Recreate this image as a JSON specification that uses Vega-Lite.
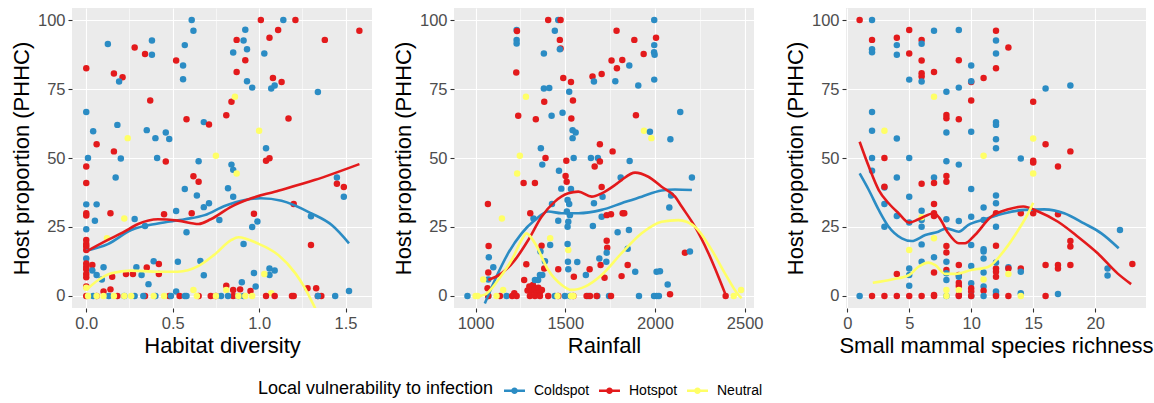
{
"$schema": "https://vega.github.io/schema/vega-lite/v6.json",
"padding": {"left": 10, "top": 8, "right": 5, "bottom": 5},
"background": "white",
"spacing": 20,
"datasets": {
"pts": [
{"p":1,"g":"Coldspot","x":0.125,"y":91.3},{"p":1,"g":"Hotspot","x":0,"y":82.5},{"p":1,"g":"Coldspot","x":0,"y":66.7},{"p":1,"g":"Coldspot","x":0.04,"y":59.7},{"p":1,"g":"Hotspot","x":0.06,"y":55},{"p":1,"g":"Coldspot","x":0.01,"y":50},{"p":1,"g":"Hotspot","x":0,"y":46.9},{"p":1,"g":"Hotspot","x":0,"y":40.9},{"p":1,"g":"Hotspot","x":0.16,"y":80.6},{"p":1,"g":"Hotspot","x":0.21,"y":79.3},{"p":1,"g":"Coldspot","x":0.19,"y":77.7},{"p":1,"g":"Coldspot","x":0.18,"y":62},{"p":1,"g":"Neutral","x":0.24,"y":57.2},{"p":1,"g":"Hotspot","x":0.16,"y":52.4},{"p":1,"g":"Coldspot","x":0.2,"y":49.8},{"p":1,"g":"Coldspot","x":0.17,"y":42.9},{"p":1,"g":"Hotspot","x":0.28,"y":90},{"p":1,"g":"Hotspot","x":0.34,"y":87.7},{"p":1,"g":"Coldspot","x":0.38,"y":92.6},{"p":1,"g":"Coldspot","x":0.38,"y":87.4},{"p":1,"g":"Hotspot","x":0.37,"y":70.8},{"p":1,"g":"Coldspot","x":0.35,"y":60.1},{"p":1,"g":"Coldspot","x":0.4,"y":57.2},{"p":1,"g":"Coldspot","x":0.41,"y":50},{"p":1,"g":"Coldspot","x":0.46,"y":59.2},{"p":1,"g":"Coldspot","x":0.48,"y":56.9},{"p":1,"g":"Hotspot","x":0.46,"y":48.7},{"p":1,"g":"Hotspot","x":0.52,"y":85.3},{"p":1,"g":"Coldspot","x":0.57,"y":90.9},{"p":1,"g":"Coldspot","x":0.56,"y":83.5},{"p":1,"g":"Coldspot","x":0.56,"y":78.5},{"p":1,"g":"Coldspot","x":0.61,"y":100},{"p":1,"g":"Coldspot","x":0.62,"y":96.1},{"p":1,"g":"Hotspot","x":0.58,"y":64},{"p":1,"g":"Coldspot","x":0.68,"y":63},{"p":1,"g":"Hotspot","x":0.71,"y":62.1},{"p":1,"g":"Coldspot","x":0.65,"y":48.8},{"p":1,"g":"Hotspot","x":0.62,"y":43.4},{"p":1,"g":"Hotspot","x":0.65,"y":41.4},{"p":1,"g":"Coldspot","x":0.57,"y":38.8},{"p":1,"g":"Coldspot","x":0.64,"y":36.4},{"p":1,"g":"Neutral","x":0.75,"y":50.8},{"p":1,"g":"Hotspot","x":0.81,"y":65.5},{"p":1,"g":"Hotspot","x":0.84,"y":70.4},{"p":1,"g":"Neutral","x":0.86,"y":72.2},{"p":1,"g":"Hotspot","x":0.87,"y":92.8},{"p":1,"g":"Coldspot","x":0.85,"y":88.2},{"p":1,"g":"Coldspot","x":0.91,"y":92.6},{"p":1,"g":"Coldspot","x":0.92,"y":96.5},{"p":1,"g":"Coldspot","x":0.93,"y":89.4},{"p":1,"g":"Hotspot","x":0.92,"y":85.4},{"p":1,"g":"Hotspot","x":0.87,"y":81.2},{"p":1,"g":"Coldspot","x":0.93,"y":77.8},{"p":1,"g":"Coldspot","x":0.96,"y":75.5},{"p":1,"g":"Coldspot","x":0.84,"y":47.6},{"p":1,"g":"Coldspot","x":0.85,"y":45.7},{"p":1,"g":"Neutral","x":0.87,"y":44.4},{"p":1,"g":"Coldspot","x":0.82,"y":39},{"p":1,"g":"Coldspot","x":0.85,"y":36},{"p":1,"g":"Neutral","x":1.0,"y":59.9},{"p":1,"g":"Hotspot","x":1.01,"y":100},{"p":1,"g":"Hotspot","x":1.06,"y":93.6},{"p":1,"g":"Hotspot","x":1.11,"y":96.4},{"p":1,"g":"Hotspot","x":1.21,"y":100},{"p":1,"g":"Coldspot","x":1.14,"y":100},{"p":1,"g":"Coldspot","x":1.03,"y":87.9},{"p":1,"g":"Hotspot","x":1.08,"y":79},{"p":1,"g":"Coldspot","x":1.07,"y":75.2},{"p":1,"g":"Coldspot","x":1.09,"y":76.3},{"p":1,"g":"Hotspot","x":1.13,"y":77.5},{"p":1,"g":"Hotspot","x":1.17,"y":64.3},{"p":1,"g":"Coldspot","x":1.04,"y":53.5},{"p":1,"g":"Hotspot","x":1.04,"y":49},{"p":1,"g":"Hotspot","x":1.06,"y":49.9},{"p":1,"g":"Hotspot","x":1.38,"y":92.8},{"p":1,"g":"Coldspot","x":1.34,"y":73.9},{"p":1,"g":"Hotspot","x":1.58,"y":96.1},{"p":1,"g":"Coldspot","x":1.45,"y":42.9},{"p":1,"g":"Hotspot","x":1.45,"y":40.7},{"p":1,"g":"Hotspot","x":1.49,"y":39.5},{"p":1,"g":"Coldspot","x":1.49,"y":36},
{"p":1,"g":"Coldspot","x":0,"y":33.2},{"p":1,"g":"Coldspot","x":0.06,"y":33.2},{"p":1,"g":"Hotspot","x":0,"y":30},{"p":1,"g":"Hotspot","x":0,"y":29.2},{"p":1,"g":"Coldspot","x":0.05,"y":27.3},{"p":1,"g":"Hotspot","x":0.14,"y":30},{"p":1,"g":"Neutral","x":0.22,"y":28.1},{"p":1,"g":"Coldspot","x":0.28,"y":27.9},{"p":1,"g":"Coldspot","x":0.34,"y":25.4},{"p":1,"g":"Hotspot","x":0.45,"y":29.6},{"p":1,"g":"Coldspot","x":0.52,"y":30.8},{"p":1,"g":"Hotspot","x":0.61,"y":30},{"p":1,"g":"Coldspot","x":0.68,"y":32.2},{"p":1,"g":"Coldspot","x":0.71,"y":33.6},{"p":1,"g":"Coldspot","x":0.58,"y":23.1},{"p":1,"g":"Coldspot","x":0.77,"y":27.5},{"p":1,"g":"Coldspot","x":0.96,"y":25},{"p":1,"g":"Coldspot","x":0.99,"y":27},{"p":1,"g":"Hotspot","x":0.97,"y":29.8},{"p":1,"g":"Hotspot","x":1.2,"y":33.3},{"p":1,"g":"Coldspot","x":1.3,"y":28.9},
{"p":1,"g":"Hotspot","x":0,"y":20.3},{"p":1,"g":"Hotspot","x":0,"y":18.8},{"p":1,"g":"Hotspot","x":0,"y":17.9},{"p":1,"g":"Hotspot","x":0,"y":16.7},{"p":1,"g":"Coldspot","x":0,"y":24.2},{"p":1,"g":"Coldspot","x":0,"y":13.6},{"p":1,"g":"Hotspot","x":0,"y":11.8},{"p":1,"g":"Hotspot","x":0,"y":10.6},{"p":1,"g":"Hotspot","x":0,"y":9.7},{"p":1,"g":"Hotspot","x":0,"y":8},{"p":1,"g":"Hotspot","x":0,"y":6.8},{"p":1,"g":"Hotspot","x":0,"y":3.4},{"p":1,"g":"Hotspot","x":0.035,"y":11.2},{"p":1,"g":"Coldspot","x":0.035,"y":9.2},{"p":1,"g":"Coldspot","x":0.06,"y":7.6},{"p":1,"g":"Coldspot","x":0.1,"y":10.4},{"p":1,"g":"Coldspot","x":0.09,"y":6},{"p":1,"g":"Hotspot","x":0.1,"y":1.6},{"p":1,"g":"Hotspot","x":0.14,"y":2.4},{"p":1,"g":"Hotspot","x":0.15,"y":7},{"p":1,"g":"Hotspot","x":0.23,"y":8},{"p":1,"g":"Hotspot","x":0.27,"y":8},{"p":1,"g":"Coldspot","x":0.29,"y":10.4},{"p":1,"g":"Coldspot","x":0.32,"y":7.6},{"p":1,"g":"Hotspot","x":0.35,"y":10.3},{"p":1,"g":"Coldspot","x":0.36,"y":4.3},{"p":1,"g":"Coldspot","x":0.39,"y":12.6},{"p":1,"g":"Hotspot","x":0.42,"y":11.6},{"p":1,"g":"Hotspot","x":0.42,"y":8},{"p":1,"g":"Coldspot","x":0.53,"y":12.4},{"p":1,"g":"Coldspot","x":0.52,"y":1.6},{"p":1,"g":"Coldspot","x":0.91,"y":18.8},{"p":1,"g":"Hotspot","x":0.89,"y":2.4},{"p":1,"g":"Hotspot","x":0.81,"y":3.7},{"p":1,"g":"Hotspot","x":0.85,"y":2.2},{"p":1,"g":"Coldspot","x":0.68,"y":7.5},{"p":1,"g":"Coldspot","x":0.66,"y":12.7},{"p":1,"g":"Coldspot","x":0.9,"y":5},{"p":1,"g":"Coldspot","x":0.97,"y":8.3},{"p":1,"g":"Coldspot","x":0.98,"y":3.4},{"p":1,"g":"Hotspot","x":0.95,"y":1.8},{"p":1,"g":"Coldspot","x":1.06,"y":10},{"p":1,"g":"Coldspot","x":1.09,"y":9.2},{"p":1,"g":"Coldspot","x":1.06,"y":7.6},{"p":1,"g":"Neutral","x":1.03,"y":8},{"p":1,"g":"Hotspot","x":1.3,"y":18.5},{"p":1,"g":"Hotspot","x":1.33,"y":2.8},{"p":1,"g":"Hotspot","x":1.28,"y":2.8},{"p":1,"g":"Coldspot","x":1.52,"y":1.8},{"p":1,"g":"Neutral","x":0.12,"y":20.9},{"p":1,"g":"Neutral","x":0,"y":3},{"p":1,"g":"Neutral","x":0.62,"y":2.2},{"p":1,"g":"Neutral","x":0.81,"y":2.2},{"p":1,"g":"Neutral","x":1.07,"y":1},
{"p":1,"g":"Hotspot","x":0,"y":0},{"p":1,"g":"Hotspot","x":0.06,"y":0},{"p":1,"g":"Hotspot","x":0.18,"y":0},{"p":1,"g":"Hotspot","x":0.34,"y":0},{"p":1,"g":"Hotspot","x":0.48,"y":0},{"p":1,"g":"Hotspot","x":0.54,"y":0},{"p":1,"g":"Hotspot","x":0.65,"y":0},{"p":1,"g":"Hotspot","x":0.72,"y":0},{"p":1,"g":"Hotspot","x":0.75,"y":0},{"p":1,"g":"Hotspot","x":0.85,"y":0},{"p":1,"g":"Hotspot","x":1.04,"y":0},{"p":1,"g":"Hotspot","x":1.09,"y":0},{"p":1,"g":"Hotspot","x":1.19,"y":0},{"p":1,"g":"Hotspot","x":1.2,"y":0},{"p":1,"g":"Hotspot","x":1.34,"y":0},{"p":1,"g":"Hotspot","x":1.36,"y":0},
{"p":1,"g":"Coldspot","x":0.04,"y":0},{"p":1,"g":"Coldspot","x":0.13,"y":0},{"p":1,"g":"Coldspot","x":0.22,"y":0},{"p":1,"g":"Coldspot","x":0.28,"y":0},{"p":1,"g":"Coldspot","x":0.33,"y":0},{"p":1,"g":"Coldspot","x":0.4,"y":0},{"p":1,"g":"Coldspot","x":0.49,"y":0},{"p":1,"g":"Coldspot","x":0.57,"y":0},{"p":1,"g":"Coldspot","x":0.58,"y":0},{"p":1,"g":"Coldspot","x":0.78,"y":0},{"p":1,"g":"Coldspot","x":0.82,"y":0},{"p":1,"g":"Coldspot","x":0.88,"y":0},{"p":1,"g":"Coldspot","x":0.91,"y":0},{"p":1,"g":"Coldspot","x":1.34,"y":0},{"p":1,"g":"Coldspot","x":1.44,"y":0},
{"p":1,"g":"Neutral","x":0.01,"y":0},{"p":1,"g":"Neutral","x":0.06,"y":0},{"p":1,"g":"Neutral","x":0.1,"y":0},{"p":1,"g":"Neutral","x":0.16,"y":0},{"p":1,"g":"Neutral","x":0.22,"y":0},{"p":1,"g":"Neutral","x":0.26,"y":0},{"p":1,"g":"Neutral","x":0.39,"y":0},{"p":1,"g":"Neutral","x":0.45,"y":0},{"p":1,"g":"Neutral","x":0.64,"y":0},{"p":1,"g":"Neutral","x":0.75,"y":0},{"p":1,"g":"Neutral","x":0.88,"y":0},{"p":1,"g":"Neutral","x":0.92,"y":0},{"p":1,"g":"Neutral","x":0.96,"y":0},

{"p":2,"g":"Coldspot","x":1229,"y":96.4},{"p":2,"g":"Hotspot","x":1231,"y":96},{"p":2,"g":"Coldspot","x":1229,"y":92.8},{"p":2,"g":"Coldspot","x":1229,"y":91.5},{"p":2,"g":"Hotspot","x":1227,"y":81},{"p":2,"g":"Hotspot","x":1238,"y":65.3},{"p":2,"g":"Neutral","x":1281,"y":72.2},{"p":2,"g":"Neutral","x":1247,"y":50.8},{"p":2,"g":"Neutral","x":1232,"y":44.4},{"p":2,"g":"Hotspot","x":1268,"y":40.9},{"p":2,"g":"Hotspot","x":1331,"y":40.9},{"p":2,"g":"Hotspot","x":1336,"y":64},{"p":2,"g":"Hotspot","x":1383,"y":70.4},{"p":2,"g":"Coldspot","x":1381,"y":87.9},{"p":2,"g":"Coldspot","x":1381,"y":75.2},{"p":2,"g":"Coldspot","x":1411,"y":75.4},{"p":2,"g":"Coldspot","x":1424,"y":65.3},{"p":2,"g":"Coldspot","x":1364,"y":53.5},{"p":2,"g":"Hotspot","x":1390,"y":50},{"p":2,"g":"Coldspot","x":1372,"y":47.6},{"p":2,"g":"Hotspot","x":1405,"y":100},{"p":2,"g":"Coldspot","x":1461,"y":100},{"p":2,"g":"Hotspot","x":1474,"y":100},{"p":2,"g":"Coldspot","x":1442,"y":96.1},{"p":2,"g":"Hotspot","x":1470,"y":92.8},{"p":2,"g":"Hotspot","x":1474,"y":89.7},{"p":2,"g":"Coldspot","x":1470,"y":89.4},{"p":2,"g":"Hotspot","x":1489,"y":79},{"p":2,"g":"Coldspot","x":1522,"y":74},{"p":2,"g":"Hotspot","x":1532,"y":77.5},{"p":2,"g":"Hotspot","x":1543,"y":70.8},{"p":2,"g":"Coldspot","x":1485,"y":66.4},{"p":2,"g":"Hotspot","x":1534,"y":64.3},{"p":2,"g":"Coldspot","x":1541,"y":60.1},{"p":2,"g":"Coldspot","x":1558,"y":59.2},{"p":2,"g":"Coldspot","x":1541,"y":57.2},{"p":2,"g":"Coldspot","x":1547,"y":50},{"p":2,"g":"Hotspot","x":1506,"y":49},{"p":2,"g":"Coldspot","x":1465,"y":45.4},{"p":2,"g":"Hotspot","x":1502,"y":43.5},{"p":2,"g":"Hotspot","x":1508,"y":41.4},{"p":2,"g":"Coldspot","x":1478,"y":38.9},{"p":2,"g":"Coldspot","x":1532,"y":38.8},{"p":2,"g":"Hotspot","x":1652,"y":79.5},{"p":2,"g":"Coldspot","x":1660,"y":77.7},{"p":2,"g":"Hotspot","x":1703,"y":80.4},{"p":2,"g":"Hotspot","x":1758,"y":85.3},{"p":2,"g":"Hotspot","x":1788,"y":82.5},{"p":2,"g":"Hotspot","x":1818,"y":85.5},{"p":2,"g":"Hotspot","x":1786,"y":96.1},{"p":2,"g":"Coldspot","x":1857,"y":83.5},{"p":2,"g":"Coldspot","x":1779,"y":77.8},{"p":2,"g":"Coldspot","x":1907,"y":76.3},{"p":2,"g":"Hotspot","x":1885,"y":92.8},{"p":2,"g":"Hotspot","x":1937,"y":87.7},{"p":2,"g":"Coldspot","x":1996,"y":100},{"p":2,"g":"Hotspot","x":2006,"y":93.6},{"p":2,"g":"Coldspot","x":1996,"y":90.9},{"p":2,"g":"Coldspot","x":1995,"y":88.3},{"p":2,"g":"Coldspot","x":1998,"y":87.4},{"p":2,"g":"Coldspot","x":1996,"y":78.4},{"p":2,"g":"Hotspot","x":1894,"y":65.5},{"p":2,"g":"Neutral","x":1939,"y":59.9},{"p":2,"g":"Coldspot","x":1972,"y":59.5},{"p":2,"g":"Neutral","x":1980,"y":57.2},{"p":2,"g":"Coldspot","x":2141,"y":66.7},{"p":2,"g":"Coldspot","x":2086,"y":56.8},{"p":2,"g":"Coldspot","x":2206,"y":42.9},{"p":2,"g":"Hotspot","x":1693,"y":55},{"p":2,"g":"Hotspot","x":1764,"y":52.4},{"p":2,"g":"Coldspot","x":1643,"y":50},{"p":2,"g":"Coldspot","x":1682,"y":50},{"p":2,"g":"Hotspot","x":1693,"y":48.7},{"p":2,"g":"Hotspot","x":1664,"y":46.9},{"p":2,"g":"Coldspot","x":1859,"y":48.9},{"p":2,"g":"Coldspot","x":1809,"y":42.9},{"p":2,"g":"Hotspot","x":1703,"y":39.5},{"p":2,"g":"Coldspot","x":1708,"y":36},{"p":2,"g":"Coldspot","x":2090,"y":36.4},
{"p":2,"g":"Coldspot","x":1513,"y":34.8},{"p":2,"g":"Coldspot","x":1522,"y":33.3},{"p":2,"g":"Coldspot","x":1426,"y":33.3},{"p":2,"g":"Coldspot","x":1509,"y":30.6},{"p":2,"g":"Coldspot","x":1526,"y":29.3},{"p":2,"g":"Coldspot","x":1517,"y":26.9},{"p":2,"g":"Coldspot","x":1513,"y":25.1},{"p":2,"g":"Coldspot","x":1461,"y":27.3},{"p":2,"g":"Coldspot","x":1323,"y":28.1},{"p":2,"g":"Hotspot","x":1305,"y":30},{"p":2,"g":"Coldspot","x":1660,"y":33.6},{"p":2,"g":"Coldspot","x":1703,"y":28.7},{"p":2,"g":"Hotspot","x":1731,"y":29.3},{"p":2,"g":"Hotspot","x":1755,"y":29.6},{"p":2,"g":"Hotspot","x":1820,"y":30},{"p":2,"g":"Hotspot","x":1829,"y":30},{"p":2,"g":"Coldspot","x":1654,"y":25.4},{"p":2,"g":"Coldspot","x":1792,"y":23.1},{"p":2,"g":"Coldspot","x":1855,"y":23.9},{"p":2,"g":"Hotspot","x":1069,"y":33.3},{"p":2,"g":"Hotspot","x":1073,"y":18.1},{"p":2,"g":"Coldspot","x":1074,"y":14},{"p":2,"g":"Coldspot","x":1099,"y":10.4},{"p":2,"g":"Hotspot","x":1071,"y":8.5},{"p":2,"g":"Coldspot","x":1071,"y":6},{"p":2,"g":"Hotspot","x":1067,"y":2.8},{"p":2,"g":"Neutral","x":1043,"y":6},{"p":2,"g":"Neutral","x":1147,"y":28.1},{"p":2,"g":"Neutral","x":1154,"y":2.2},{"p":2,"g":"Hotspot","x":1216,"y":1},{"p":2,"g":"Hotspot","x":1271,"y":5.8},{"p":2,"g":"Hotspot","x":1283,"y":11.5},{"p":2,"g":"Hotspot","x":1368,"y":18.2},{"p":2,"g":"Coldspot","x":1362,"y":16.1},{"p":2,"g":"Neutral","x":1416,"y":20.9},{"p":2,"g":"Coldspot","x":1416,"y":18.5},{"p":2,"g":"Neutral","x":1517,"y":16.7},{"p":2,"g":"Coldspot","x":1513,"y":18.8},{"p":2,"g":"Hotspot","x":1383,"y":10},{"p":2,"g":"Coldspot","x":1387,"y":12.6},{"p":2,"g":"Hotspot","x":1461,"y":9.7},{"p":2,"g":"Coldspot","x":1515,"y":12.4},{"p":2,"g":"Coldspot","x":1517,"y":9.7},{"p":2,"g":"Hotspot","x":1548,"y":7},{"p":2,"g":"Coldspot","x":1567,"y":12.3},{"p":2,"g":"Coldspot","x":1615,"y":7.6},{"p":2,"g":"Hotspot","x":1636,"y":9.7},{"p":2,"g":"Hotspot","x":1697,"y":11.2},{"p":2,"g":"Hotspot","x":1731,"y":20},{"p":2,"g":"Hotspot","x":1734,"y":17.5},{"p":2,"g":"Coldspot","x":1731,"y":15.7},{"p":2,"g":"Coldspot","x":1729,"y":12.4},{"p":2,"g":"Hotspot","x":1719,"y":6.6},{"p":2,"g":"Coldspot","x":1690,"y":13.6},{"p":2,"g":"Hotspot","x":1814,"y":7.2},{"p":2,"g":"Coldspot","x":1848,"y":17.1},{"p":2,"g":"Hotspot","x":1848,"y":11.2},{"p":2,"g":"Coldspot","x":1890,"y":8.8},{"p":2,"g":"Coldspot","x":2009,"y":8.8},{"p":2,"g":"Coldspot","x":2028,"y":9},{"p":2,"g":"Coldspot","x":2071,"y":4.2},{"p":2,"g":"Hotspot","x":2084,"y":0.6},{"p":2,"g":"Coldspot","x":2080,"y":32.1},{"p":2,"g":"Hotspot","x":2167,"y":15.7},{"p":2,"g":"Coldspot","x":2195,"y":16.1},
{"p":2,"g":"Hotspot","x":1290,"y":2},{"p":2,"g":"Hotspot","x":1300,"y":3.4},{"p":2,"g":"Hotspot","x":1310,"y":1.8},{"p":2,"g":"Hotspot","x":1320,"y":4},{"p":2,"g":"Hotspot","x":1330,"y":2.5},{"p":2,"g":"Hotspot","x":1340,"y":1},{"p":2,"g":"Hotspot","x":1350,"y":3},{"p":2,"g":"Hotspot","x":1360,"y":1.5},{"p":2,"g":"Hotspot","x":1370,"y":2.2},{"p":2,"g":"Coldspot","x":1349,"y":5.8},{"p":2,"g":"Coldspot","x":1331,"y":5.8},{"p":2,"g":"Coldspot","x":1359,"y":7.6},{"p":2,"g":"Coldspot","x":1372,"y":7.6},
{"p":2,"g":"Coldspot","x":955,"y":0},{"p":2,"g":"Coldspot","x":1071,"y":0},{"p":2,"g":"Coldspot","x":1173,"y":0},{"p":2,"g":"Coldspot","x":1442,"y":0},{"p":2,"g":"Coldspot","x":1498,"y":0},{"p":2,"g":"Coldspot","x":1526,"y":0},{"p":2,"g":"Coldspot","x":1628,"y":0},{"p":2,"g":"Coldspot","x":1679,"y":0},{"p":2,"g":"Coldspot","x":1744,"y":0},{"p":2,"g":"Coldspot","x":1911,"y":0},{"p":2,"g":"Coldspot","x":1995,"y":0},{"p":2,"g":"Coldspot","x":2009,"y":0},{"p":2,"g":"Coldspot","x":2022,"y":0},
{"p":2,"g":"Hotspot","x":1071,"y":0},{"p":2,"g":"Hotspot","x":1136,"y":0},{"p":2,"g":"Hotspot","x":1204,"y":0},{"p":2,"g":"Hotspot","x":1229,"y":0},{"p":2,"g":"Hotspot","x":1303,"y":0},{"p":2,"g":"Hotspot","x":1331,"y":0},{"p":2,"g":"Hotspot","x":1359,"y":0},{"p":2,"g":"Hotspot","x":1405,"y":0},{"p":2,"g":"Hotspot","x":1461,"y":0},{"p":2,"g":"Hotspot","x":1545,"y":0},{"p":2,"g":"Hotspot","x":1619,"y":0},{"p":2,"g":"Hotspot","x":1638,"y":0},{"p":2,"g":"Hotspot","x":1675,"y":0},{"p":2,"g":"Hotspot","x":1755,"y":0},{"p":2,"g":"Hotspot","x":2394,"y":0},
{"p":2,"g":"Neutral","x":1000,"y":0},{"p":2,"g":"Neutral","x":1011,"y":0},{"p":2,"g":"Neutral","x":1117,"y":0},{"p":2,"g":"Neutral","x":1457,"y":0},{"p":2,"g":"Neutral","x":1532,"y":0},{"p":2,"g":"Neutral","x":1545,"y":0},{"p":2,"g":"Neutral","x":2439,"y":0},{"p":2,"g":"Neutral","x":2480,"y":2.2},

{"p":3,"g":"Hotspot","x":1,"y":100},{"p":3,"g":"Coldspot","x":2,"y":100},{"p":3,"g":"Hotspot","x":2,"y":92.8},{"p":3,"g":"Coldspot","x":2,"y":89.4},{"p":3,"g":"Coldspot","x":2,"y":88.3},{"p":3,"g":"Coldspot","x":2,"y":66.7},{"p":3,"g":"Coldspot","x":2,"y":59.9},{"p":3,"g":"Neutral","x":3,"y":59.9},{"p":3,"g":"Coldspot","x":2,"y":50},{"p":3,"g":"Coldspot","x":2,"y":45.4},{"p":3,"g":"Hotspot","x":3,"y":50},{"p":3,"g":"Coldspot","x":3,"y":39.3},{"p":3,"g":"Hotspot","x":4,"y":93.6},{"p":3,"g":"Coldspot","x":4,"y":90.9},{"p":3,"g":"Coldspot","x":4,"y":87.4},{"p":3,"g":"Coldspot","x":4,"y":57.1},{"p":3,"g":"Coldspot","x":4,"y":42.9},{"p":3,"g":"Hotspot","x":5,"y":96.4},{"p":3,"g":"Hotspot","x":5,"y":87.9},{"p":3,"g":"Coldspot","x":5,"y":78.4},{"p":3,"g":"Coldspot","x":5,"y":50},{"p":3,"g":"Coldspot","x":5,"y":36},{"p":3,"g":"Hotspot","x":6,"y":92.8},{"p":3,"g":"Coldspot","x":6,"y":91.4},{"p":3,"g":"Hotspot","x":6,"y":85.3},{"p":3,"g":"Hotspot","x":6,"y":80.7},{"p":3,"g":"Hotspot","x":6,"y":79.5},{"p":3,"g":"Coldspot","x":6,"y":77.7},{"p":3,"g":"Hotspot","x":6,"y":40.7},{"p":3,"g":"Coldspot","x":7,"y":96.1},{"p":3,"g":"Hotspot","x":7,"y":81.2},{"p":3,"g":"Neutral","x":7,"y":72.2},{"p":3,"g":"Coldspot","x":7,"y":42.9},{"p":3,"g":"Hotspot","x":7,"y":40.9},{"p":3,"g":"Coldspot","x":8,"y":74},{"p":3,"g":"Hotspot","x":8,"y":65.6},{"p":3,"g":"Hotspot","x":8,"y":64.4},{"p":3,"g":"Coldspot","x":8,"y":59.2},{"p":3,"g":"Coldspot","x":8,"y":48.8},{"p":3,"g":"Hotspot","x":8,"y":43.5},{"p":3,"g":"Hotspot","x":8,"y":41.4},{"p":3,"g":"Coldspot","x":9,"y":96.4},{"p":3,"g":"Hotspot","x":9,"y":85.4},{"p":3,"g":"Coldspot","x":9,"y":75.5},{"p":3,"g":"Hotspot","x":9,"y":64},{"p":3,"g":"Coldspot","x":9,"y":47.6},{"p":3,"g":"Coldspot","x":10,"y":83.5},{"p":3,"g":"Hotspot","x":10,"y":77.5},{"p":3,"g":"Coldspot","x":10,"y":77.8},{"p":3,"g":"Hotspot","x":10,"y":70.8},{"p":3,"g":"Coldspot","x":10,"y":59.5},{"p":3,"g":"Coldspot","x":10,"y":38.8},{"p":3,"g":"Hotspot","x":11,"y":79},{"p":3,"g":"Neutral","x":11,"y":50.8},{"p":3,"g":"Hotspot","x":12,"y":96.1},{"p":3,"g":"Coldspot","x":12,"y":92.6},{"p":3,"g":"Coldspot","x":12,"y":87.9},{"p":3,"g":"Hotspot","x":12,"y":82.5},{"p":3,"g":"Coldspot","x":12,"y":63},{"p":3,"g":"Coldspot","x":12,"y":62},{"p":3,"g":"Coldspot","x":12,"y":56.8},{"p":3,"g":"Coldspot","x":12,"y":53.5},{"p":3,"g":"Coldspot","x":12,"y":36.4},{"p":3,"g":"Hotspot","x":13,"y":90},{"p":3,"g":"Coldspot","x":14,"y":49.8},{"p":3,"g":"Hotspot","x":15,"y":70.4},{"p":3,"g":"Neutral","x":15,"y":57.1},{"p":3,"g":"Hotspot","x":15,"y":49},{"p":3,"g":"Hotspot","x":15,"y":48.4},{"p":3,"g":"Neutral","x":15,"y":44.4},{"p":3,"g":"Coldspot","x":16,"y":75.2},{"p":3,"g":"Hotspot","x":16,"y":55},{"p":3,"g":"Hotspot","x":17,"y":46.9},{"p":3,"g":"Coldspot","x":18,"y":76.3},{"p":3,"g":"Hotspot","x":18,"y":52.4},
{"p":3,"g":"Hotspot","x":3,"y":39.6},{"p":3,"g":"Coldspot","x":3,"y":33.3},{"p":3,"g":"Coldspot","x":3,"y":25.1},{"p":3,"g":"Coldspot","x":4,"y":29},{"p":3,"g":"Coldspot","x":5,"y":26.6},{"p":3,"g":"Coldspot","x":6,"y":30.9},{"p":3,"g":"Coldspot","x":6,"y":27.5},{"p":3,"g":"Coldspot","x":6,"y":25.1},{"p":3,"g":"Neutral","x":6,"y":28.5},{"p":3,"g":"Hotspot","x":7,"y":33.3},{"p":3,"g":"Hotspot","x":7,"y":30},{"p":3,"g":"Hotspot","x":7,"y":29},{"p":3,"g":"Coldspot","x":8,"y":27.8},{"p":3,"g":"Coldspot","x":9,"y":27.2},{"p":3,"g":"Coldspot","x":10,"y":28.7},{"p":3,"g":"Coldspot","x":10,"y":18.5},{"p":3,"g":"Coldspot","x":11,"y":32.1},{"p":3,"g":"Coldspot","x":11,"y":27.5},{"p":3,"g":"Coldspot","x":12,"y":33.6},{"p":3,"g":"Coldspot","x":12,"y":25.1},{"p":3,"g":"Hotspot","x":12,"y":30},{"p":3,"g":"Hotspot","x":14,"y":30},{"p":3,"g":"Hotspot","x":15,"y":30},{"p":3,"g":"Hotspot","x":17,"y":29.6},
{"p":3,"g":"Coldspot","x":6,"y":18.7},{"p":3,"g":"Neutral","x":5,"y":16.7},{"p":3,"g":"Neutral","x":7,"y":20.9},{"p":3,"g":"Coldspot","x":6,"y":12.4},{"p":3,"g":"Hotspot","x":8,"y":18.1},{"p":3,"g":"Hotspot","x":8,"y":15.8},{"p":3,"g":"Coldspot","x":8,"y":12.4},{"p":3,"g":"Hotspot","x":8,"y":9.4},{"p":3,"g":"Coldspot","x":8,"y":8.2},{"p":3,"g":"Coldspot","x":8,"y":5.8},{"p":3,"g":"Coldspot","x":8,"y":0},{"p":3,"g":"Neutral","x":8,"y":2.2},{"p":3,"g":"Neutral","x":8,"y":0},{"p":3,"g":"Coldspot","x":5,"y":10},{"p":3,"g":"Coldspot","x":5,"y":7.6},{"p":3,"g":"Coldspot","x":5,"y":3.7},{"p":3,"g":"Hotspot","x":4,"y":8},{"p":3,"g":"Coldspot","x":7,"y":14},{"p":3,"g":"Hotspot","x":7,"y":8.5},{"p":3,"g":"Hotspot","x":9,"y":11.2},{"p":3,"g":"Hotspot","x":9,"y":7.6},{"p":3,"g":"Hotspot","x":9,"y":4.8},{"p":3,"g":"Hotspot","x":9,"y":3.6},{"p":3,"g":"Coldspot","x":9,"y":7},{"p":3,"g":"Hotspot","x":9,"y":0.4},{"p":3,"g":"Neutral","x":9,"y":2.2},{"p":3,"g":"Coldspot","x":10,"y":10.9},{"p":3,"g":"Coldspot","x":10,"y":4.6},{"p":3,"g":"Hotspot","x":10,"y":2.8},{"p":3,"g":"Hotspot","x":10,"y":1.6},{"p":3,"g":"Coldspot","x":10,"y":0},{"p":3,"g":"Coldspot","x":11,"y":16.9},{"p":3,"g":"Coldspot","x":11,"y":16.1},{"p":3,"g":"Coldspot","x":11,"y":13.6},{"p":3,"g":"Coldspot","x":11,"y":8.5},{"p":3,"g":"Neutral","x":11,"y":6},{"p":3,"g":"Coldspot","x":11,"y":3.4},{"p":3,"g":"Hotspot","x":11,"y":1.9},{"p":3,"g":"Coldspot","x":11,"y":0},{"p":3,"g":"Hotspot","x":12,"y":18.2},{"p":3,"g":"Hotspot","x":12,"y":10},{"p":3,"g":"Hotspot","x":12,"y":8.8},{"p":3,"g":"Hotspot","x":12,"y":7},{"p":3,"g":"Coldspot","x":12,"y":1.6},{"p":3,"g":"Coldspot","x":12,"y":12.1},{"p":3,"g":"Coldspot","x":13,"y":10.4},{"p":3,"g":"Hotspot","x":13,"y":10},{"p":3,"g":"Neutral","x":13,"y":8},{"p":3,"g":"Hotspot","x":13,"y":0},{"p":3,"g":"Hotspot","x":14,"y":10},{"p":3,"g":"Coldspot","x":14,"y":8.8},{"p":3,"g":"Coldspot","x":14,"y":1},{"p":3,"g":"Neutral","x":14,"y":0},{"p":3,"g":"Hotspot","x":16,"y":11.2},{"p":3,"g":"Hotspot","x":16,"y":0},{"p":3,"g":"Hotspot","x":17,"y":11.2},{"p":3,"g":"Hotspot","x":17,"y":10},{"p":3,"g":"Coldspot","x":17,"y":0.7},{"p":3,"g":"Hotspot","x":18,"y":19.9},{"p":3,"g":"Hotspot","x":18,"y":17.9},{"p":3,"g":"Hotspot","x":18,"y":11.2},{"p":3,"g":"Coldspot","x":21,"y":10},{"p":3,"g":"Coldspot","x":21,"y":7.4},{"p":3,"g":"Coldspot","x":22,"y":23.9},{"p":3,"g":"Hotspot","x":23,"y":11.6},
{"p":3,"g":"Coldspot","x":1,"y":0},{"p":3,"g":"Hotspot","x":2,"y":0},{"p":3,"g":"Hotspot","x":3,"y":0},{"p":3,"g":"Hotspot","x":4,"y":0},{"p":3,"g":"Hotspot","x":5,"y":0},{"p":3,"g":"Hotspot","x":6,"y":0},{"p":3,"g":"Hotspot","x":7,"y":0.4},{"p":3,"g":"Hotspot","x":7,"y":0},{"p":3,"g":"Hotspot","x":9,"y":0},{"p":3,"g":"Hotspot","x":10,"y":0},{"p":3,"g":"Coldspot","x":12,"y":0.5},{"p":3,"g":"Hotspot","x":12,"y":0}
],
"sm": [
{"p":1,"g":"Coldspot","x":0,"y":16.4},{"p":1,"g":"Coldspot","x":0.125,"y":18.8},{"p":1,"g":"Coldspot","x":0.26,"y":23.9},{"p":1,"g":"Coldspot","x":0.415,"y":26.3},{"p":1,"g":"Coldspot","x":0.57,"y":27.8},{"p":1,"g":"Coldspot","x":0.685,"y":29.3},{"p":1,"g":"Coldspot","x":0.8,"y":32.6},{"p":1,"g":"Coldspot","x":0.917,"y":34.8},{"p":1,"g":"Coldspot","x":1.01,"y":35.4},{"p":1,"g":"Coldspot","x":1.13,"y":34.5},{"p":1,"g":"Coldspot","x":1.3,"y":30},{"p":1,"g":"Coldspot","x":1.42,"y":25.7},{"p":1,"g":"Coldspot","x":1.52,"y":19.1},
{"p":1,"g":"Hotspot","x":0,"y":16.1},{"p":1,"g":"Hotspot","x":0.125,"y":20.3},{"p":1,"g":"Hotspot","x":0.22,"y":23.3},{"p":1,"g":"Hotspot","x":0.3,"y":26.1},{"p":1,"g":"Hotspot","x":0.415,"y":27.8},{"p":1,"g":"Hotspot","x":0.53,"y":27.3},{"p":1,"g":"Hotspot","x":0.65,"y":26.1},{"p":1,"g":"Hotspot","x":0.72,"y":27.8},{"p":1,"g":"Hotspot","x":0.84,"y":32.4},{"p":1,"g":"Hotspot","x":0.955,"y":35.4},{"p":1,"g":"Hotspot","x":1.09,"y":37.8},{"p":1,"g":"Hotspot","x":1.32,"y":42},{"p":1,"g":"Hotspot","x":1.58,"y":47.8},
{"p":1,"g":"Neutral","x":0,"y":2.2},{"p":1,"g":"Neutral","x":0.07,"y":5.8},{"p":1,"g":"Neutral","x":0.145,"y":8.2},{"p":1,"g":"Neutral","x":0.26,"y":9.2},{"p":1,"g":"Neutral","x":0.415,"y":8.8},{"p":1,"g":"Neutral","x":0.53,"y":8.8},{"p":1,"g":"Neutral","x":0.65,"y":10.9},{"p":1,"g":"Neutral","x":0.74,"y":14.9},{"p":1,"g":"Neutral","x":0.84,"y":20.3},{"p":1,"g":"Neutral","x":0.88,"y":21.3},{"p":1,"g":"Neutral","x":0.99,"y":19.1},{"p":1,"g":"Neutral","x":1.11,"y":14.9},{"p":1,"g":"Neutral","x":1.21,"y":8.2},{"p":1,"g":"Neutral","x":1.26,"y":3.4},{"p":1,"g":"Neutral","x":1.32,"y":-3.9},{"p":1,"g":"Neutral","x":1.34,"y":-6.5},
{"p":2,"g":"Coldspot","x":1052,"y":-2.7},{"p":2,"g":"Coldspot","x":1108,"y":5.8},{"p":2,"g":"Coldspot","x":1182,"y":15.5},{"p":2,"g":"Coldspot","x":1257,"y":22.7},{"p":2,"g":"Coldspot","x":1331,"y":27.5},{"p":2,"g":"Coldspot","x":1405,"y":30.6},{"p":2,"g":"Coldspot","x":1480,"y":30},{"p":2,"g":"Coldspot","x":1573,"y":30},{"p":2,"g":"Coldspot","x":1703,"y":31.2},{"p":2,"g":"Coldspot","x":1814,"y":33.6},{"p":2,"g":"Coldspot","x":1926,"y":36},{"p":2,"g":"Coldspot","x":2037,"y":38.2},{"p":2,"g":"Coldspot","x":2112,"y":38.6},{"p":2,"g":"Coldspot","x":2206,"y":38.4},
{"p":2,"g":"Hotspot","x":1071,"y":5.8},{"p":2,"g":"Hotspot","x":1145,"y":8.2},{"p":2,"g":"Hotspot","x":1219,"y":13},{"p":2,"g":"Hotspot","x":1294,"y":20.3},{"p":2,"g":"Hotspot","x":1368,"y":28.7},{"p":2,"g":"Hotspot","x":1442,"y":34.2},{"p":2,"g":"Hotspot","x":1517,"y":37.2},{"p":2,"g":"Hotspot","x":1573,"y":37.8},{"p":2,"g":"Hotspot","x":1647,"y":36},{"p":2,"g":"Hotspot","x":1703,"y":37.2},{"p":2,"g":"Hotspot","x":1777,"y":40.2},{"p":2,"g":"Hotspot","x":1814,"y":42},{"p":2,"g":"Hotspot","x":1889,"y":44.7},{"p":2,"g":"Hotspot","x":1963,"y":43.2},{"p":2,"g":"Hotspot","x":2037,"y":39.6},{"p":2,"g":"Hotspot","x":2112,"y":36},{"p":2,"g":"Hotspot","x":2149,"y":32.4},{"p":2,"g":"Hotspot","x":2223,"y":25.1},{"p":2,"g":"Hotspot","x":2298,"y":15.5},{"p":2,"g":"Hotspot","x":2394,"y":0.4},
{"p":2,"g":"Neutral","x":1000,"y":-0.2},{"p":2,"g":"Neutral","x":1052,"y":0.5},{"p":2,"g":"Neutral","x":1126,"y":5.8},{"p":2,"g":"Neutral","x":1201,"y":13},{"p":2,"g":"Neutral","x":1257,"y":20.3},{"p":2,"g":"Neutral","x":1284,"y":22.7},{"p":2,"g":"Neutral","x":1331,"y":19.1},{"p":2,"g":"Neutral","x":1405,"y":9.4},{"p":2,"g":"Neutral","x":1480,"y":4},{"p":2,"g":"Neutral","x":1535,"y":2.2},{"p":2,"g":"Neutral","x":1610,"y":3.4},{"p":2,"g":"Neutral","x":1703,"y":7.6},{"p":2,"g":"Neutral","x":1814,"y":15.5},{"p":2,"g":"Neutral","x":1926,"y":22.7},{"p":2,"g":"Neutral","x":2037,"y":26.9},{"p":2,"g":"Neutral","x":2130,"y":27.5},{"p":2,"g":"Neutral","x":2223,"y":25.1},{"p":2,"g":"Neutral","x":2316,"y":16.7},{"p":2,"g":"Neutral","x":2390,"y":8.2},{"p":2,"g":"Neutral","x":2465,"y":0.4},{"p":2,"g":"Neutral","x":2483,"y":-0.8},
{"p":3,"g":"Coldspot","x":1,"y":44.4},{"p":3,"g":"Coldspot","x":1.74,"y":38.4},{"p":3,"g":"Coldspot","x":2.54,"y":31.2},{"p":3,"g":"Coldspot","x":3.34,"y":25.1},{"p":3,"g":"Coldspot","x":4.4,"y":20.9},{"p":3,"g":"Coldspot","x":5.2,"y":19.9},{"p":3,"g":"Coldspot","x":6.3,"y":22.1},{"p":3,"g":"Coldspot","x":7.35,"y":23.3},{"p":3,"g":"Coldspot","x":8,"y":24.5},{"p":3,"g":"Coldspot","x":9,"y":23.3},{"p":3,"g":"Coldspot","x":9.75,"y":25.7},{"p":3,"g":"Coldspot","x":11.1,"y":27.8},{"p":3,"g":"Coldspot","x":12.7,"y":30},{"p":3,"g":"Coldspot","x":14.3,"y":31.2},{"p":3,"g":"Coldspot","x":15.9,"y":31.4},{"p":3,"g":"Coldspot","x":17.5,"y":30},{"p":3,"g":"Coldspot","x":19.1,"y":26.3},{"p":3,"g":"Coldspot","x":20.5,"y":22.7},{"p":3,"g":"Coldspot","x":21.9,"y":17.3},
{"p":3,"g":"Hotspot","x":1,"y":55.9},{"p":3,"g":"Hotspot","x":1.74,"y":46.9},{"p":3,"g":"Hotspot","x":2.54,"y":38.4},{"p":3,"g":"Hotspot","x":3.34,"y":33.6},{"p":3,"g":"Hotspot","x":4.14,"y":30},{"p":3,"g":"Hotspot","x":5,"y":26.6},{"p":3,"g":"Hotspot","x":5.75,"y":27.8},{"p":3,"g":"Hotspot","x":7,"y":30},{"p":3,"g":"Hotspot","x":7.4,"y":28.5},{"p":3,"g":"Hotspot","x":8.16,"y":22.7},{"p":3,"g":"Hotspot","x":9,"y":19.1},{"p":3,"g":"Hotspot","x":9.5,"y":19.1},{"p":3,"g":"Hotspot","x":10.3,"y":22.1},{"p":3,"g":"Hotspot","x":11.6,"y":28.7},{"p":3,"g":"Hotspot","x":13,"y":31.4},{"p":3,"g":"Hotspot","x":14.2,"y":32.4},{"p":3,"g":"Hotspot","x":15.4,"y":30.6},{"p":3,"g":"Hotspot","x":17,"y":26.9},{"p":3,"g":"Hotspot","x":18.6,"y":21.5},{"p":3,"g":"Hotspot","x":20.2,"y":15.5},{"p":3,"g":"Hotspot","x":21.8,"y":8.2},{"p":3,"g":"Hotspot","x":22.9,"y":4.3},
{"p":3,"g":"Neutral","x":2.06,"y":4.8},{"p":3,"g":"Neutral","x":3.6,"y":6},{"p":3,"g":"Neutral","x":5,"y":7.6},{"p":3,"g":"Neutral","x":5.75,"y":10.6},{"p":3,"g":"Neutral","x":6.55,"y":12.1},{"p":3,"g":"Neutral","x":7.1,"y":11.2},{"p":3,"g":"Neutral","x":7.9,"y":8},{"p":3,"g":"Neutral","x":8.7,"y":8},{"p":3,"g":"Neutral","x":10,"y":9.4},{"p":3,"g":"Neutral","x":11.4,"y":10.6},{"p":3,"g":"Neutral","x":12.7,"y":16.7},{"p":3,"g":"Neutral","x":13.8,"y":23.9},{"p":3,"g":"Neutral","x":14.6,"y":30},{"p":3,"g":"Neutral","x":15,"y":33.8}
]
},
"config": {
"font": "Liberation Sans",
"view": {"fill": "#EBEBEB", "stroke": null},
"axis": {"domain": false, "gridColor": "#FFFFFF", "tickColor": "#333333", "tickSize": 4, "tickWidth": 1.1, "labelColor": "#4D4D4D", "labelFont": "Liberation Sans", "labelFontSize": 16.5, "titleFont": "Liberation Sans", "titleFontSize": 22, "titleFontWeight": "normal", "titleColor": "#000000", "labelPadding": 3, "labelFlush": false, "labelOverlap": false, "titlePadding": 4},
"legend": {"titleFont": "Liberation Sans", "titleFontSize": 18, "titleFontWeight": "normal", "titleColor": "#000000", "titleLimit": 600, "labelFont": "Liberation Sans", "labelFontSize": 14, "labelColor": "#000000", "labelLimit": 300}
},
"hconcat": [
{"width": 300, "height": 300,
 "layer": [
  {"data": {"name": "pts"}, "transform": [{"filter": "datum.p === 1"}],
   "mark": {"type": "circle", "size": 42, "opacity": 1},
   "encoding": {
    "x": {"field": "x", "type": "quantitative", "scale": {"domain": [-0.0825, 1.653], "nice": false, "zero": false},
      "axis": {"title": "Habitat diversity", "values": [0, 0.25, 0.5, 0.75, 1, 1.25, 1.5], "labelExpr": "datum.value % 0.5 === 0 ? format(datum.value, '.1f') : ''", "gridWidth": {"condition": {"test": "datum.value % 0.5 === 0", "value": 1.1}, "value": 0.55}, "tickOpacity": {"condition": {"test": "datum.value % 0.5 === 0", "value": 1}, "value": 0}}},
    "y": {"field": "y", "type": "quantitative", "scale": {"domain": [-4.35, 104.35], "nice": false, "zero": false},
      "axis": {"title": "Host proportion (PHHC)", "values": [0, 12.5, 25, 37.5, 50, 62.5, 75, 87.5, 100], "labelExpr": "datum.value % 25 === 0 ? format(datum.value, 'd') : ''", "gridWidth": {"condition": {"test": "datum.value % 25 === 0", "value": 1.1}, "value": 0.55}, "tickOpacity": {"condition": {"test": "datum.value % 25 === 0", "value": 1}, "value": 0}}},
    "color": {"field": "g", "type": "nominal", "scale": {"domain": ["Coldspot", "Hotspot", "Neutral"], "range": ["#2B8CC4", "#E31A1C", "#FFFF66"]},
      "legend": {"title": "Local vulnerability to infection", "orient": "none", "legendX": 186, "legendY": 372, "direction": "horizontal", "titleOrient": "left", "titleLimit": 600, "symbolType": "M-1,-0.11H1V0.11H-1Z M0.32,0A0.32,0.32 0 1 1 -0.32,0A0.32,0.32 0 1 1 0.32,0Z", "symbolSize": 440, "symbolStrokeWidth": 0, "labelOffset": 9, "columnPadding": 9, "titlePadding": 10}}
   }},
  {"data": {"name": "sm"}, "transform": [{"filter": "datum.p === 1"}],
   "mark": {"type": "line", "strokeWidth": 2.6, "interpolate": "monotone", "clip": true},
   "encoding": {"x": {"field": "x", "type": "quantitative"}, "y": {"field": "y", "type": "quantitative"}, "color": {"field": "g", "type": "nominal"}}}
 ]},
{"width": 300, "height": 300,
 "layer": [
  {"data": {"name": "pts"}, "transform": [{"filter": "datum.p === 2"}],
   "mark": {"type": "circle", "size": 42, "opacity": 1},
   "encoding": {
    "x": {"field": "x", "type": "quantitative", "scale": {"domain": [880, 2552], "nice": false, "zero": false},
      "axis": {"title": "Rainfall", "values": [1000, 1250, 1500, 1750, 2000, 2250, 2500], "labelExpr": "datum.value % 500 === 0 ? format(datum.value, 'd') : ''", "gridWidth": {"condition": {"test": "datum.value % 500 === 0", "value": 1.1}, "value": 0.55}, "tickOpacity": {"condition": {"test": "datum.value % 500 === 0", "value": 1}, "value": 0}}},
    "y": {"field": "y", "type": "quantitative", "scale": {"domain": [-4.35, 104.35], "nice": false, "zero": false},
      "axis": {"title": "Host proportion (PHHC)", "values": [0, 12.5, 25, 37.5, 50, 62.5, 75, 87.5, 100], "labelExpr": "datum.value % 25 === 0 ? format(datum.value, 'd') : ''", "gridWidth": {"condition": {"test": "datum.value % 25 === 0", "value": 1.1}, "value": 0.55}, "tickOpacity": {"condition": {"test": "datum.value % 25 === 0", "value": 1}, "value": 0}}},
    "color": {"field": "g", "type": "nominal"}
   }},
  {"data": {"name": "sm"}, "transform": [{"filter": "datum.p === 2"}],
   "mark": {"type": "line", "strokeWidth": 2.6, "interpolate": "monotone", "clip": true},
   "encoding": {"x": {"field": "x", "type": "quantitative"}, "y": {"field": "y", "type": "quantitative"}, "color": {"field": "g", "type": "nominal"}}}
 ]},
{"width": 300, "height": 300,
 "layer": [
  {"data": {"name": "pts"}, "transform": [{"filter": "datum.p === 3"}],
   "mark": {"type": "circle", "size": 42, "opacity": 1},
   "encoding": {
    "x": {"field": "x", "type": "quantitative", "scale": {"domain": [-0.1, 24.1], "nice": false, "zero": false},
      "axis": {"title": "Small mammal species richness", "values": [0, 2.5, 5, 7.5, 10, 12.5, 15, 17.5, 20, 22.5], "labelExpr": "datum.value % 5 === 0 ? format(datum.value, 'd') : ''", "gridWidth": {"condition": {"test": "datum.value % 5 === 0", "value": 1.1}, "value": 0.55}, "tickOpacity": {"condition": {"test": "datum.value % 5 === 0", "value": 1}, "value": 0}}},
    "y": {"field": "y", "type": "quantitative", "scale": {"domain": [-4.35, 104.35], "nice": false, "zero": false},
      "axis": {"title": "Host proportion (PHHC)", "values": [0, 12.5, 25, 37.5, 50, 62.5, 75, 87.5, 100], "labelExpr": "datum.value % 25 === 0 ? format(datum.value, 'd') : ''", "gridWidth": {"condition": {"test": "datum.value % 25 === 0", "value": 1.1}, "value": 0.55}, "tickOpacity": {"condition": {"test": "datum.value % 25 === 0", "value": 1}, "value": 0}}},
    "color": {"field": "g", "type": "nominal"}
   }},
  {"data": {"name": "sm"}, "transform": [{"filter": "datum.p === 3"}],
   "mark": {"type": "line", "strokeWidth": 2.6, "interpolate": "monotone", "clip": true},
   "encoding": {"x": {"field": "x", "type": "quantitative"}, "y": {"field": "y", "type": "quantitative"}, "color": {"field": "g", "type": "nominal"}}}
 ]}
]
}
